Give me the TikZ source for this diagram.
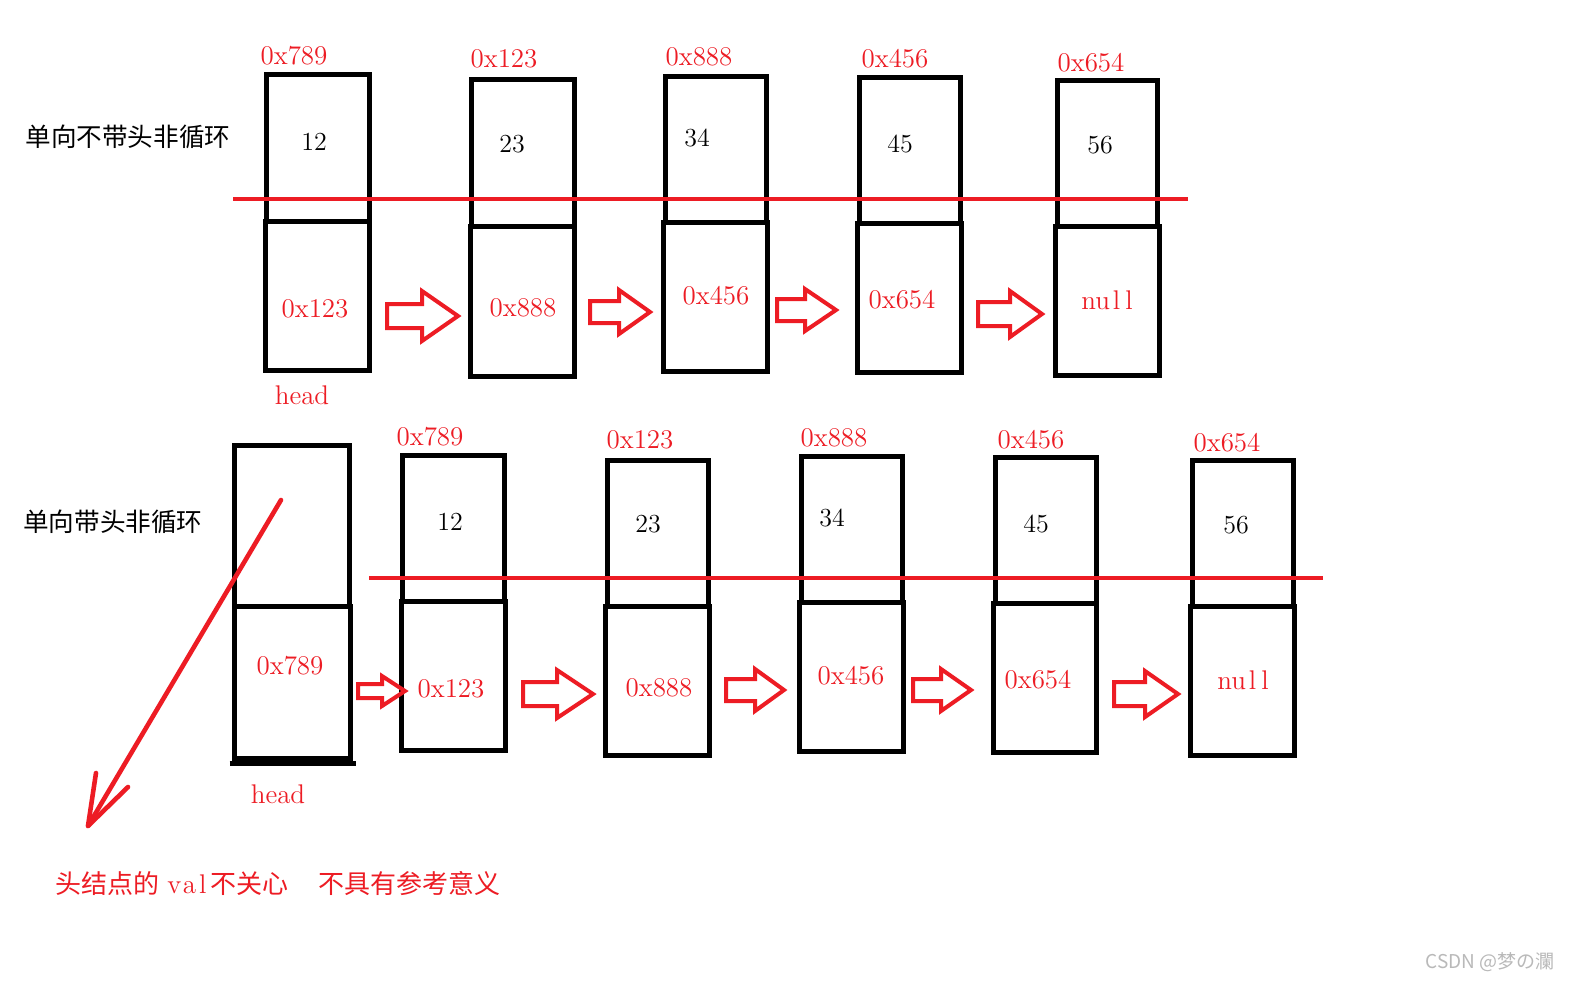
\documentclass[tikz,border=0pt]{standalone}
\usepackage{fontspec}
\newfontfamily\cjk{Noto Sans CJK SC}
\usetikzlibrary{fit}
\definecolor{pred}{RGB}{237,28,36}
\definecolor{wm}{RGB}{185,185,185}
\newcommand\blockarrow[6]{%
  \draw[barrow] (#1,#4-#5) -- (#2,#4-#5) -- (#2,#4-#6) -- (#3,#4) -- (#2,#4+#6) -- (#2,#4+#5) -- (#1,#4+#5) -- cycle;}
\begin{document}
\begin{tikzpicture}[x=0.5pt,y=-0.5pt,
  box/.style={draw=black, line width=2.5pt, inner sep=0pt},
  addr/.style={text=pred, font=\fontsize{13.5}{16}\selectfont, inner sep=0pt},
  val/.style={text=black, font=\fontsize{13}{16}\selectfont, inner sep=0pt},
  title/.style={text=black, font=\cjk\fontsize{12.8}{15}\selectfont, inner sep=0pt},
  sep/.style={draw=pred, line width=2.2pt},
  barrow/.style={draw=pred, line width=2pt, line join=miter},
  diag/.style={draw=pred, line width=2.3pt, line cap=round, line join=round}]
\useasboundingbox[fill=white] (0,0) rectangle (1571,982);

% ---------- row 1 ----------
\node[title] (t1) at (128,137) {单向不带头非循环};
% top (value) boxes
\node[box, fit={(266.5,74.5) (369.5,221)}] (r1t1) {};
\node[box, fit={(471.5,79.5) (574.5,226)}] (r1t2) {};
\node[box, fit={(665.5,76.5) (766.5,222)}] (r1t3) {};
\node[box, fit={(859.5,77.5) (960.5,223)}] (r1t4) {};
\node[box, fit={(1057.5,80.5) (1157.5,226)}] (r1t5) {};
% bottom (next) boxes
\node[box, fit={(265.5,221.5) (369.5,370.5)}] (r1b1) {};
\node[box, fit={(470.5,226.5) (574.5,376)}] (r1b2) {};
\node[box, fit={(663.5,222.5) (767,371)}] (r1b3) {};
\node[box, fit={(857.5,223.5) (961,372)}] (r1b4) {};
\node[box, fit={(1055.5,226.5) (1159,375)}] (r1b5) {};
% separator
\coordinate (s1a) at (233,199);
\coordinate (s1b) at (1188,199);
\draw[sep] (s1a) -- (s1b);
% labels
\node[addr] (r1a1) at (294,56) {0x789};
\node[addr] (r1a2) at (504,59) {0x123};
\node[addr] (r1a3) at (699,57) {0x888};
\node[addr] (r1a4) at (895,59) {0x456};
\node[addr] (r1a5) at (1091,63) {0x654};
\node[val] (r1v1) at (314,142) {12};
\node[val] (r1v2) at (512,144) {23};
\node[val] (r1v3) at (697,138) {34};
\node[val] (r1v4) at (900,144) {45};
\node[val] (r1v5) at (1100,145) {56};
\node[addr] (r1n1) at (315,309) {0x123};
\node[addr] (r1n2) at (523,308) {0x888};
\node[addr] (r1n3) at (716,296) {0x456};
\node[addr] (r1n4) at (902,300) {0x654};
\node[addr] (r1n5) at (1107,300) {nu\kern1.5pt l\kern2.5pt l};
\node[addr] (r1h) at (302,395) {head};
% arrows
\blockarrow{387}{422}{458}{316}{12}{25}
\blockarrow{590}{619}{650}{312}{11}{22}
\blockarrow{777}{805}{836}{310}{11}{21}
\blockarrow{978}{1010}{1042}{314}{12}{23}

% ---------- row 2 ----------
\node[title] (t2) at (113,522) {单向带头非循环};
% head node
\node[box, fit={(234.5,445.5) (349.5,606)}] (hdt) {};
\node[box, fit={(234.5,606) (350.5,758.5)}] (hdb) {};
\draw[line width=2.5pt] ([shift={(-2.5,2.5)}]hdb.south west) -- ([shift={(2.5,2.5)}]hdb.south east);
% top boxes
\node[box, fit={(402.5,455.5) (504.5,601)}] (r2t1) {};
\node[box, fit={(607.5,460.5) (708.5,606)}] (r2t2) {};
\node[box, fit={(801.5,456.5) (902.5,602)}] (r2t3) {};
\node[box, fit={(995.5,457.5) (1096.5,603)}] (r2t4) {};
\node[box, fit={(1192.5,460.5) (1293.5,606)}] (r2t5) {};
% bottom boxes
\node[box, fit={(401,601.5) (505.5,750.5)}] (r2b1) {};
\node[box, fit={(605.5,606.5) (709.5,755.5)}] (r2b2) {};
\node[box, fit={(799.5,602.5) (903.5,751.5)}] (r2b3) {};
\node[box, fit={(993.5,603.5) (1096.5,752.5)}] (r2b4) {};
\node[box, fit={(1190.5,606.5) (1294.5,755.5)}] (r2b5) {};
% separator
\coordinate (s2a) at (369,578);
\coordinate (s2b) at (1323,578);
\draw[sep] (s2a) -- (s2b);
% labels
\node[addr] (r2a1) at (430,437) {0x789};
\node[addr] (r2a2) at (640,440) {0x123};
\node[addr] (r2a3) at (834,438) {0x888};
\node[addr] (r2a4) at (1031,440) {0x456};
\node[addr] (r2a5) at (1227,443) {0x654};
\node[val] (r2v1) at (450,522) {12};
\node[val] (r2v2) at (648,524) {23};
\node[val] (r2v3) at (832,518) {34};
\node[val] (r2v4) at (1036,524) {45};
\node[val] (r2v5) at (1236,525) {56};
\node[addr] (r2n0) at (290,666) {0x789};
\node[addr] (r2n1) at (451,689) {0x123};
\node[addr] (r2n2) at (659,688) {0x888};
\node[addr] (r2n3) at (851,676) {0x456};
\node[addr] (r2n4) at (1038,680) {0x654};
\node[addr] (r2n5) at (1243,680) {nu\kern1.5pt l\kern2.5pt l};
\node[addr] (r2h) at (278,794) {head};
% arrows
\blockarrow{358}{382}{405}{691}{7}{15}
\blockarrow{523}{557}{593}{694}{12}{24}
\blockarrow{726}{755}{784}{690}{11}{21}
\blockarrow{913}{941}{971}{690}{11}{21}
\blockarrow{1114}{1145}{1178}{694}{12}{23}

% diagonal arrow from head value
\coordinate (dA) at (281,500);
\coordinate (dB) at (88,826);
\coordinate (dL) at (96,773);
\coordinate (dR) at (128,787);
\draw[diag] (dA) -- (dB);
\draw[diag] (dL) -- (dB) -- (dR);

% note
\node[anchor=west, text=pred, inner sep=0pt, font=\fontsize{13.5}{16}\selectfont] (note) at (55,884)
  {{\cjk\fontsize{13}{15}\selectfont 头结点的}\kern4pt v\kern0.8pt a\kern1.5pt l\kern2pt{\cjk\fontsize{13}{15}\selectfont 不关心\hspace{15pt}不具有参考意义}};

% watermark
\node[anchor=east, text=wm, inner sep=0pt, font=\cjk\fontsize{9.5}{11}\selectfont] (wmk) at (1555,962) {CSDN @梦の瀾};
\end{tikzpicture}
\end{document}
